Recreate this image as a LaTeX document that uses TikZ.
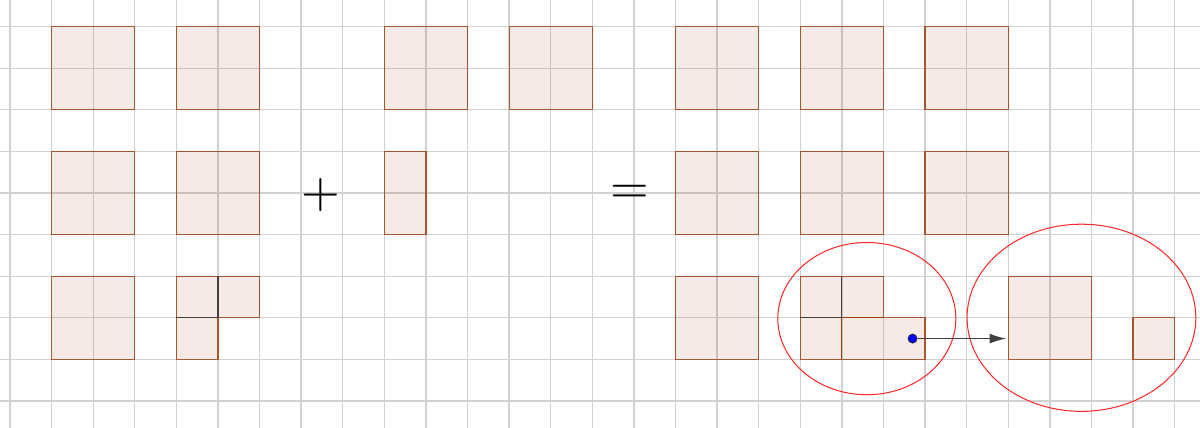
\documentclass[tikz,border=0pt]{standalone}
\usetikzlibrary{arrows.meta, positioning}
\usepackage{xcolor}
\definecolor{tilebrown}{RGB}{153,51,0}
\definecolor{ringred}{RGB}{255,40,40}
\def\tilesz{2cm}

\begin{document}
\begin{tikzpicture}[x=1cm,y=1cm]
    \tikzstyle{gridline}=[black!18, line width=0.9pt]
    \tikzstyle{tile}=[rectangle, draw=tilebrown, draw opacity=0.75, fill=tilebrown, fill opacity=0.1, line width=0.8pt, inner sep=0pt, outer sep=0pt, anchor=south west]
    \tikzstyle{bigtile}=[tile, minimum size=\tilesz]
    \tikzstyle{unittile}=[tile, minimum size=1cm]
    \tikzstyle{cut}=[black!75, line width=0.85pt]
    \tikzstyle{ring}=[ringred, line width=0.7pt]
    \tikzstyle{sign}=[scale=3.4, inner sep=0pt]

    \useasboundingbox (-0.24,-0.65) rectangle (28.61,9.64);
    \draw[gridline] (-0.24,-0.65) grid (28.61,9.64);

    % left summand
    \foreach \x/\y [count=\i] in {1/7,4/7,1/4,4/4,1/1}
        \node[bigtile] (L-\i) at (\x,\y) {};
    \node[unittile] (La) at (4,2) {};
    \node[unittile] (Lb) at (5,2) {};
    \node[unittile] (Lc) at (4,1) {};
    \draw[cut] (Lb.north west) -- (Lb.south west);
    \draw[cut] (La.south west) -- (La.south east);

    \node[sign] (plus) at (7.48,4.95) {$+$};

    % right summand
    \foreach \x/\y [count=\i] in {9/7,12/7}
        \node[bigtile] (M-\i) at (\x,\y) {};
    \node[tile, minimum width=1cm, minimum height=\tilesz] (M-3) at (9,4) {};

    \node[sign] (eq) at (14.9,4.97) {$=$};

    % result
    \foreach \x/\y [count=\i] in {16/7,19/7,22/7,16/4,19/4,22/4,16/1}
        \node[bigtile] (R-\i) at (\x,\y) {};
    \node[unittile] (Ra) at (19,2) {};
    \node[unittile] (Rb) at (20,2) {};
    \node[unittile] (Rc) at (19,1) {};
    \node[tile, minimum width=\tilesz, minimum height=1cm] (Rd) at (20,1) {};
    \draw[cut] (Rb.north west) -- (Rb.south west);
    \draw[cut] (Ra.south west) -- (Ra.south east);

    % regrouped pieces
    \node[bigtile] (S-1) at (24,1) {};
    \node[unittile] (S-2) at (27,1) {};

    \coordinate (ringL) at (20.6,1.98);
    \coordinate (ringR) at (25.76,2.0);
    \draw[ring] (ringL) ellipse [x radius=2.14, y radius=1.83];
    \draw[ring] (ringR) ellipse [x radius=2.75, y radius=2.25];

    \node[circle, fill=blue, draw=black!80, line width=0.5pt, inner sep=0pt, minimum size=0.22cm] (mv) at (21.7,1.5) {};
    \coordinate (mvend) at (23.95,1.5);
    \draw[-{Latex[length=4mm, width=2.4mm]}, black!75, line width=0.9pt] (mv) -- (mvend);
\end{tikzpicture}
\end{document}
